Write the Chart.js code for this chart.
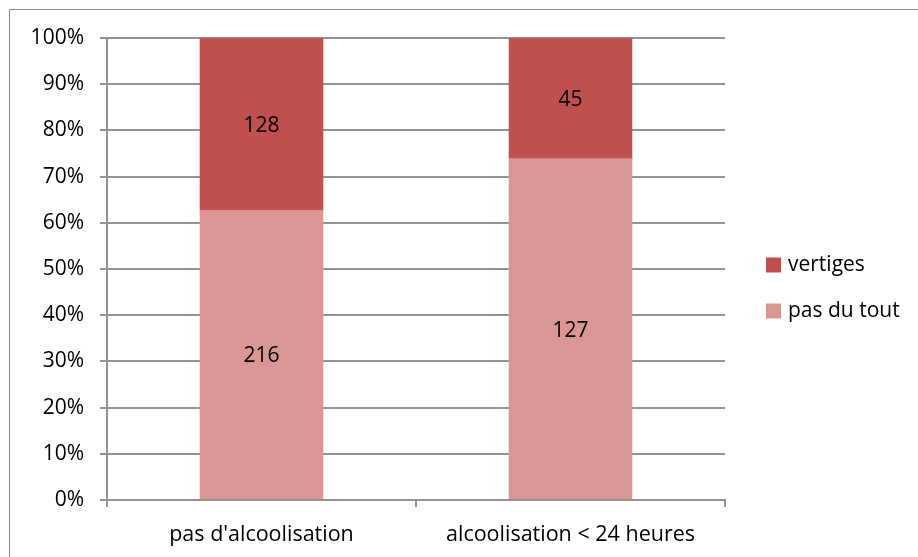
<!DOCTYPE html>
<html>
<head>
<meta charset="utf-8">
<script src="https://cdn.jsdelivr.net/npm/chart.js@4"></script>
<style>
    html, body { margin: 0; padding: 0; background: #fff; }
    #wrap { width: 918px; height: 557px; position: relative; }
</style>
</head>
<body>
<div id="wrap"><canvas id="alcoolChart" width="918" height="557"></canvas></div>
<script>
// data
const categories = ["pas d'alcoolisation", 'alcoolisation < 24 heures'];
const pasDuTout = [216, 127];
const vertiges = [128, 45];
const yTicks = [0, 10, 20, 30, 40, 50, 60, 70, 80, 90, 100];

const totals = categories.map((c, i) => pasDuTout[i] + vertiges[i]);
const toPct = (arr) => arr.map((v, i) => v / totals[i] * 100);

const FONT = '"Open Sans", "Noto Sans", sans-serif';
const GRID = '#939393';

// outer frame of the chart
const framePlugin = {
    id: 'frame',
    beforeDraw(chart) {
        const ctx = chart.ctx;
        ctx.save();
        ctx.strokeStyle = '#8a8a8a';
        ctx.lineWidth = 1;
        ctx.strokeRect(9.5, 9.5, 1000, 1000);
        ctx.restore();
    }
};

// counts written in the middle of each segment
const countLabels = {
    id: 'countLabels',
    afterDatasetsDraw(chart) {
        const ctx = chart.ctx;
        ctx.save();
        ctx.font = '21px ' + FONT;
        ctx.fillStyle = '#000';
        ctx.textAlign = 'center';
        ctx.textBaseline = 'middle';
        chart.data.datasets.forEach((ds, di) => {
            chart.getDatasetMeta(di).data.forEach((bar, i) => {
                const mid = (bar.y + bar.base) / 2;
                ctx.fillText(String(ds.counts[i]), bar.x, mid + 2);
            });
        });
        ctx.restore();
    }
};

// legend on the right, vertiges first
const sideLegend = {
    id: 'sideLegend',
    afterDraw(chart) {
        const ctx = chart.ctx;
        const items = chart.data.datasets.slice().reverse();
        ctx.save();
        ctx.font = '21px ' + FONT;
        ctx.textBaseline = 'middle';
        ctx.textAlign = 'left';
        items.forEach((ds, k) => {
            const cy = 265 + k * 46;
            ctx.fillStyle = ds.backgroundColor;
            ctx.fillRect(766, cy - 7.5, 15, 15);
            ctx.fillStyle = '#000';
            ctx.fillText(ds.label, 788, cy);
        });
        ctx.restore();
    }
};

new Chart(document.getElementById('alcoolChart'), {
    type: 'bar',
    data: {
        labels: categories,
        datasets: [{
            label: 'pas du tout',
            data: toPct(pasDuTout),
            counts: pasDuTout,
            backgroundColor: '#D99694',
            borderWidth: 0
        }, {
            label: 'vertiges',
            data: toPct(vertiges),
            counts: vertiges,
            backgroundColor: '#C0504D',
            borderWidth: 0
        }]
    },
    options: {
        responsive: false,
        animation: false,
        devicePixelRatio: 1,
        layout: { padding: { top: 38, right: 193, left: 0, bottom: 0 } },
        plugins: {
            legend: { display: false },
            tooltip: { enabled: false }
        },
        datasets: {
            bar: { categoryPercentage: 1, barPercentage: 0.4 }
        },
        scales: {
            x: {
                stacked: true,
                afterFit(scale) { scale.height = 57; },
                grid: {
                    offset: true,
                    drawOnChartArea: false,
                    drawTicks: true,
                    tickLength: 7,
                    color: GRID,
                    lineWidth: 2
                },
                border: { display: true, color: GRID, width: 2 },
                ticks: {
                    color: '#000',
                    font: { family: FONT, size: 21.5 },
                    padding: 15,
                    maxRotation: 0
                }
            },
            y: {
                stacked: true,
                min: 0,
                max: 100,
                afterFit(scale) { scale.width = 107; },
                afterBuildTicks(scale) {
                    scale.ticks = yTicks.map(v => ({ value: v }));
                },
                grid: {
                    color: GRID,
                    lineWidth: 2,
                    drawTicks: true,
                    tickLength: 7
                },
                border: { display: true, color: GRID, width: 2 },
                ticks: {
                    color: '#000',
                    font: { family: FONT, size: 21 },
                    padding: 16,
                    callback: (v) => v + '%'
                }
            }
        }
    },
    plugins: [framePlugin, countLabels, sideLegend]
});
</script>
</body>
</html>
